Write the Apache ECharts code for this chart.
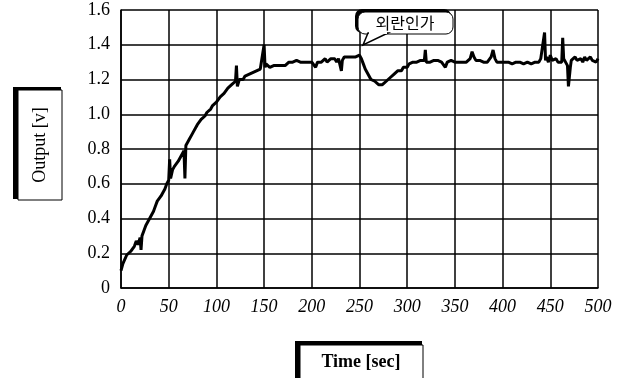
<!DOCTYPE html>
<html>
<head>
<meta charset="utf-8">
<script src="https://cdn.jsdelivr.net/npm/echarts@6/dist/echarts.min.js"></script>
<style>
  html, body { margin: 0; padding: 0; background: #fff; }
  #chart { width: 628px; height: 378px; }
</style>
</head>
<body>
<div id="chart"></div>
<script>
// tick labels
const xTicks = [0, 50, 100, 150, 200, 250, 300, 350, 400, 450, 500];
const yTicks = [0, 0.2, 0.4, 0.6, 0.8, 1.0, 1.2, 1.4, 1.6];

// measured output [time sec, volt]
const output = [
  [0,0.10],[2,0.14],[4,0.15],[6,0.19],[8,0.18],[10,0.21],[12,0.22],[14,0.24],[16,0.27],[18,0.25],
  [20,0.29],[21,0.22],[22,0.30],[24,0.33],[26,0.36],[28,0.38],[30,0.40],[32,0.42],[34,0.44],[36,0.47],
  [38,0.50],[40,0.51],[42,0.53],[44,0.55],[46,0.57],[48,0.60],[50,0.62],[51,0.74],[52,0.63],[54,0.68],
  [56,0.70],[58,0.71],[60,0.73],[62,0.75],[64,0.77],[66,0.79],[67,0.63],[68,0.82],[70,0.84],[72,0.86],
  [74,0.88],[76,0.90],[78,0.91],[80,0.94],[82,0.95],[84,0.97],[86,0.98],[88,0.99],[90,1.01],[92,1.02],
  [94,1.03],[96,1.05],[98,1.06],[100,1.07],[102,1.08],[104,1.10],[106,1.10],[108,1.12],[110,1.13],[112,1.15],
  [114,1.16],[116,1.17],[118,1.17],[120,1.19],[121,1.28],[122,1.16],[124,1.20],[126,1.21],[128,1.20],[130,1.22],
  [132,1.21],[134,1.23],[136,1.22],[138,1.24],[140,1.23],[142,1.25],[144,1.24],[146,1.26],[148,1.25],[150,1.40],
  [151,1.27],[152,1.29],[154,1.28],[156,1.27],[158,1.28],[160,1.28],[162,1.27],[164,1.28],[166,1.27],[168,1.28],
  [170,1.27],[172,1.28],[174,1.27],[176,1.30],[178,1.31],[180,1.30],[182,1.30],[184,1.31],[186,1.30],[188,1.30],
  [190,1.31],[192,1.30],[194,1.29],[196,1.30],[198,1.31],[200,1.30],[202,1.29],[204,1.27],[206,1.30],[208,1.31],
  [210,1.30],[212,1.31],[214,1.32],[216,1.30],[218,1.31],[220,1.32],[222,1.31],[224,1.32],[226,1.30],[228,1.32],
  [230,1.31],[231,1.25],[232,1.31],[234,1.33],[236,1.32],[238,1.33],[240,1.32],[242,1.33],[244,1.32],[246,1.33],
  [248,1.33],[250,1.34],[252,1.32],[254,1.29],[256,1.26],[258,1.24],[260,1.22],[262,1.20],[264,1.19],[266,1.19],
  [268,1.18],[270,1.17],[272,1.16],[274,1.17],[276,1.18],[278,1.19],[280,1.20],[282,1.21],[284,1.22],[286,1.23],
  [288,1.24],[290,1.25],[292,1.26],[294,1.25],[296,1.27],[298,1.28],[300,1.27],[302,1.29],[304,1.28],[306,1.30],
  [308,1.29],[310,1.30],[312,1.29],[314,1.31],[316,1.30],[318,1.31],[319,1.37],[320,1.30],[322,1.31],[324,1.30],
  [326,1.30],[328,1.31],[330,1.30],[332,1.31],[334,1.30],[336,1.30],[338,1.29],[340,1.27],[342,1.30],[344,1.30],
  [346,1.31],[348,1.30],[350,1.30],[352,1.31],[354,1.30],[356,1.31],[358,1.30],[360,1.31],[362,1.30],[364,1.31],
  [366,1.32],[368,1.36],[370,1.33],[372,1.31],[374,1.30],[376,1.31],[378,1.30],[380,1.30],[382,1.31],[384,1.30],
  [386,1.31],[388,1.33],[390,1.37],[392,1.32],[394,1.30],[396,1.31],[398,1.30],[400,1.30],[402,1.30],[404,1.29],
  [406,1.30],[408,1.30],[410,1.29],[412,1.30],[414,1.30],[416,1.29],[418,1.30],[420,1.30],[422,1.29],[424,1.30],
  [426,1.30],[428,1.30],[430,1.29],[432,1.30],[434,1.30],[436,1.31],[438,1.30],[440,1.32],[442,1.31],[444,1.47],
  [445,1.31],[446,1.33],[448,1.30],[450,1.34],[452,1.31],[454,1.30],[456,1.32],[458,1.30],[460,1.31],[462,1.30],
  [463,1.44],[464,1.32],[466,1.30],[468,1.28],[469,1.16],[470,1.15],[471,1.27],[472,1.31],[474,1.30],[476,1.33],
  [478,1.31],[480,1.30],[482,1.32],[484,1.30],[486,1.33],[488,1.31],[490,1.30],[492,1.33],[494,1.31],[496,1.32],
  [498,1.30],[500,1.32]
];

const serif = '"Liberation Serif", "DejaVu Serif", serif';

const chart = echarts.init(document.getElementById('chart'));

chart.setOption({
  animation: false,
  grid: { left: 121, right: 30, top: 10, bottom: 90 },
  xAxis: {
    type: 'value',
    min: xTicks[0],
    max: xTicks[xTicks.length - 1],
    interval: 50,
    axisLine: { show: true, lineStyle: { color: '#000', width: 1.5 } },
    axisTick: { show: false },
    splitLine: { show: true, lineStyle: { color: '#000', width: 1.5 } },
    axisLabel: {
      color: '#000', fontFamily: serif, fontStyle: 'italic', fontSize: 18, margin: 10,
      formatter: v => String(v)
    }
  },
  yAxis: {
    type: 'value',
    min: yTicks[0],
    max: yTicks[yTicks.length - 1],
    interval: 0.2,
    axisLine: { show: true, lineStyle: { color: '#000', width: 1.5 } },
    axisTick: { show: false },
    splitLine: { show: true, lineStyle: { color: '#000', width: 1.5 } },
    axisLabel: {
      color: '#000', fontFamily: serif, fontSize: 18, margin: 11,
      formatter: v => (v === 0 ? '0' : v.toFixed(1))
    }
  },
  series: [{
    type: 'line',
    data: output,
    showSymbol: false,
    lineStyle: { color: '#000', width: 3 },
    z: 5
  }],
  graphic: [
    // y axis title box
    { type: 'rect', shape: { x: 13, y: 87, width: 48, height: 112 }, style: { fill: '#000' } },
    { type: 'rect', shape: { x: 18, y: 90, width: 44, height: 110 }, style: { fill: '#fff', stroke: '#000', lineWidth: 1 } },
    {
      type: 'text', x: 40, y: 145, rotation: Math.PI / 2,
      style: { text: 'Output [v]', font: '18px ' + serif, fill: '#000', align: 'center', verticalAlign: 'middle' }
    },
    // x axis title box
    { type: 'rect', shape: { x: 295, y: 341, width: 127, height: 40 }, style: { fill: '#000' } },
    { type: 'rect', shape: { x: 300, y: 345, width: 123, height: 36 }, style: { fill: '#fff', stroke: '#000', lineWidth: 1 } },
    {
      type: 'text', x: 361, y: 362,
      style: { text: 'Time [sec]', font: 'bold 18px ' + serif, fill: '#000', align: 'center', verticalAlign: 'middle' }
    },
    // callout
    { type: 'rect', shape: { x: 355, y: 9, width: 96, height: 24, r: 7 }, style: { fill: '#000' }, z: 10 },
    { type: 'rect', shape: { x: 358, y: 12, width: 95, height: 22, r: 7 }, style: { fill: '#fff', stroke: '#000', lineWidth: 1 }, z: 11 },
    { type: 'polygon', shape: { points: [[368, 33], [363, 45], [388, 33]] }, style: { fill: '#fff', stroke: '#000', lineWidth: 1.5 }, z: 11 },
    { type: 'rect', shape: { x: 369, y: 31, width: 18, height: 3 }, style: { fill: '#fff' }, z: 12 },
    {
      type: 'text', x: 405, y: 23, z: 13,
      style: { text: '외란인가', font: '16px "Noto Sans CJK KR"', fill: '#000', align: 'center', verticalAlign: 'middle' }
    }
  ]
});
</script>
</body>
</html>
